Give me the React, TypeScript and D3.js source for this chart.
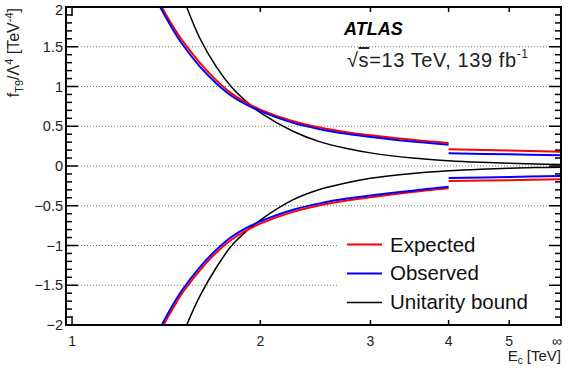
import React from "react";
import * as d3 from "d3";

const W = 568;
const H = 368;
const plot = { left: 66, right: 561, top: 7, bottom: 325 };

const xTicks = [1, 2, 3, 4, 5];
const xTickLabels = ["1", "2", "3", "4", "5"];
const infTickPos = 6.0;
const yTicks = [2, 1.5, 1, 0.5, 0, -0.5, -1, -1.5, -2];
const yTickLabels = ["2", "1.5", "1", "0.5", "0", "\u22120.5", "\u22121", "\u22121.5", "\u22122"];

// Expected (red) limits, E_c in TeV
const eExpUp = [1.391, 1.45, 1.5, 1.6, 1.7, 1.8, 1.9, 2.0, 2.25, 2.5, 2.75, 3.0, 3.5, 4.0];
const expectedUp = [2.0, 1.756, 1.58, 1.3, 1.08, 0.91, 0.795, 0.71, 0.565, 0.48, 0.425, 0.386, 0.329, 0.29];
const eExpLo = [1.4, 1.45, 1.5, 1.6, 1.7, 1.8, 1.9, 2.0, 2.25, 2.5, 2.75, 3.0, 3.5, 4.0];
const expectedLo = [-2.0, -1.79, -1.6, -1.315, -1.09, -0.925, -0.81, -0.725, -0.58, -0.49, -0.435, -0.393, -0.328, -0.281];

// Observed (blue) limits
const eObsUp = [1.383, 1.45, 1.5, 1.6, 1.7, 1.8, 1.9, 2.0, 2.25, 2.5, 2.75, 3.0, 3.5, 4.0];
const observedUp = [2.0, 1.715, 1.535, 1.254, 1.042, 0.88, 0.771, 0.69, 0.546, 0.46, 0.405, 0.366, 0.309, 0.268];
const eObsLo = [1.391, 1.45, 1.5, 1.6, 1.7, 1.8, 1.9, 2.0, 2.25, 2.5, 2.75, 3.0, 3.5, 4.0];
const observedLo = [-2.0, -1.745, -1.56, -1.275, -1.055, -0.89, -0.778, -0.697, -0.553, -0.467, -0.41, -0.37, -0.31, -0.26];

// limits without clipping, 4 TeV to infinity
const eTail = [4.0, 5.0, 6.05];
const expectedTailUp = [0.21, 0.195, 0.18];
const observedTailUp = [0.16, 0.147, 0.135];
const observedTailLo = [-0.15, -0.138, -0.126];
const expectedTailLo = [-0.19, -0.178, -0.167];

// Unitarity bound (black)
const eUni = [1.525, 1.6, 1.7, 1.8, 1.9, 2.0, 2.25, 2.5, 2.75, 3.0, 3.5, 4.0, 4.5, 5.0, 5.5, 6.05];
const unitarityUp = [2.0, 1.61, 1.25, 0.99, 0.81, 0.67, 0.44, 0.3, 0.22, 0.165, 0.1, 0.066, 0.046, 0.034, 0.025, 0.019];
const unitarityLo = [-2.0, -1.64, -1.28, -1.0, -0.82, -0.68, -0.43, -0.29, -0.21, -0.155, -0.095, -0.06, -0.04, -0.028, -0.02, -0.015];

const legendItems = [
  { label: "Expected", color: "#ff0000" },
  { label: "Observed", color: "#0000ff" },
  { label: "Unitarity bound", color: "#000000" },
];

const font = "'Liberation Sans', Arial, Helvetica, sans-serif";

export default function App() {
  const x = d3.scaleLog().domain([0.978, 6.05]).range([plot.left, plot.right]);
  const y = d3.scaleLinear().domain([-2, 2]).range([plot.bottom, plot.top]);

  const line = d3
    .line<[number, number]>()
    .x((d) => x(d[0]))
    .y((d) => y(d[1]))
    .curve(d3.curveCatmullRom.alpha(0.5));
  const path = (es: number[], vs: number[]) => line(es.map((e, i) => [e, vs[i]] as [number, number])) || "";

  const minorY = d3.range(-20, 21).map((i) => i / 10).filter((v) => Math.abs(v * 2 - Math.round(v * 2)) > 1e-6);

  const series = [
    { d: path(eUni, unitarityUp), color: "#000", w: 1.5 },
    { d: path(eUni, unitarityLo), color: "#000", w: 1.5 },
    { d: path(eExpUp, expectedUp), color: "#ff0000", w: 2 },
    { d: path(eObsUp, observedUp), color: "#0000ff", w: 2 },
    { d: path(eExpLo, expectedLo), color: "#ff0000", w: 2 },
    { d: path(eObsLo, observedLo), color: "#0000ff", w: 2 },
    { d: path(eTail, expectedTailUp), color: "#ff0000", w: 2 },
    { d: path(eTail, observedTailUp), color: "#0000ff", w: 2 },
    { d: path(eTail, observedTailLo), color: "#0000ff", w: 2 },
    { d: path(eTail, expectedTailLo), color: "#ff0000", w: 2 },
  ];

  return (
    <svg width={W} height={H} style={{ position: "absolute", left: 0, top: 0, background: "#fff" }} fontFamily={font}>
      <defs>
        <clipPath id="plotClip">
          <rect x={plot.left} y={plot.top} width={plot.right - plot.left} height={plot.bottom - plot.top} />
        </clipPath>
      </defs>
      <rect width={W} height={H} fill="#fff" />

      {/* gridlines */}
      {yTicks.map((t) => (
        <line key={"g" + t} x1={plot.left} x2={plot.right} y1={y(t)} y2={y(t)} stroke="#777" strokeWidth={1} strokeDasharray="1 2" />
      ))}

      {/* legend box hides the gridlines */}
      <rect x={338} y={222} width={212} height={96} fill="#fff" />

      <g clipPath="url(#plotClip)">
        {series.map((s, i) => (
          <path key={i} d={s.d} fill="none" stroke={s.color} strokeWidth={s.w} />
        ))}
      </g>

      {/* y ticks, left and right */}
      {yTicks.map((t) => (
        <g key={"yt" + t}>
          <line x1={plot.left} x2={plot.left + 12} y1={y(t)} y2={y(t)} stroke="#000" strokeWidth={1.5} />
          <line x1={plot.right - 12} x2={plot.right} y1={y(t)} y2={y(t)} stroke="#000" strokeWidth={1.5} />
        </g>
      ))}
      {minorY.map((t) => (
        <g key={"ym" + t}>
          <line x1={plot.left} x2={plot.left + 6} y1={y(t)} y2={y(t)} stroke="#000" strokeWidth={1.5} />
          <line x1={plot.right - 6} x2={plot.right} y1={y(t)} y2={y(t)} stroke="#000" strokeWidth={1.5} />
        </g>
      ))}
      {yTicks.map((t, i) => (
        <text key={"yl" + t} x={63} y={Math.max(y(t) + 5, 15)} textAnchor="end" fontSize={14.5} fill="#222">
          {yTickLabels[i]}
        </text>
      ))}

      {/* x ticks, bottom and top */}
      {xTicks.map((t, i) => (
        <g key={"xt" + t}>
          <line x1={x(t)} x2={x(t)} y1={plot.bottom} y2={plot.bottom - (t === 1 ? 9 : 5)} stroke="#000" strokeWidth={1.5} />
          <line x1={x(t)} x2={x(t)} y1={plot.top} y2={plot.top + (t === 1 ? 9 : 5)} stroke="#000" strokeWidth={1.5} />
          <text x={x(t)} y={345.5} textAnchor="middle" fontSize={14} fill="#222">
            {xTickLabels[i]}
          </text>
        </g>
      ))}
      <text x={x(infTickPos) - 2} y={345.5} textAnchor="middle" fontSize={14} fill="#222">
        {"\u221E"}
      </text>

      {/* frame */}
      <rect x={plot.left} y={plot.top} width={plot.right - plot.left} height={plot.bottom - plot.top} fill="none" stroke="#000" strokeWidth={2} />

      {/* axis titles */}
      <text x={561} y={361} textAnchor="end" fontSize={15} fill="#222">
        E<tspan fontSize={10} dy={3}>c</tspan>
        <tspan dy={-3}> [TeV]</tspan>
      </text>
      <text transform="translate(19,8) rotate(-90)" textAnchor="end" fontSize={16} fill="#222">
        f<tspan fontSize={11} dy={4}>T9</tspan>
        <tspan dy={-4}>/Λ</tspan>
        <tspan fontSize={11} dy={-6}>4</tspan>
        <tspan dy={6}> [TeV</tspan>
        <tspan fontSize={11} dy={-6}>-4</tspan>
        <tspan dy={6}>]</tspan>
      </text>

      {/* labels */}
      <text x={344} y={35} fontSize={18} fontWeight="bold" fontStyle="italic" fill="#000">
        ATLAS
      </text>
      <text x={347} y={67} fontSize={20} letterSpacing={0.6} fill="#222">
        √<tspan textDecoration="overline">s</tspan>=13 TeV, 139 fb
        <tspan fontSize={12} dy={-9}>-1</tspan>
      </text>

      {/* legend */}
      {legendItems.map((it, i) => (
        <g key={it.label}>
          <line x1={347} x2={382} y1={244.5 + i * 29} y2={244.5 + i * 29} stroke={it.color} strokeWidth={it.color === "#000000" ? 1.5 : 2} />
          <text x={390} y={252 + i * 28.3} fontSize={20.5} fill="#111">
            {it.label}
          </text>
        </g>
      ))}
    </svg>
  );
}
